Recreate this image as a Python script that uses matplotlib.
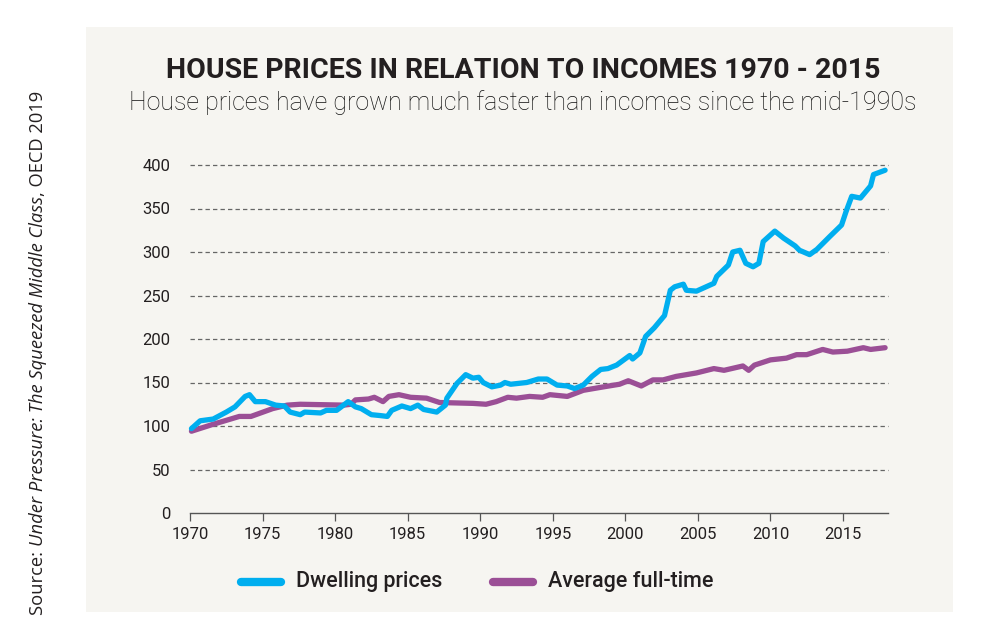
import matplotlib
matplotlib.use("Agg")
import matplotlib.pyplot as plt
from matplotlib.patches import Rectangle
from matplotlib.lines import Line2D

plt.rcParams['font.family'] = ['Roboto', 'DejaVu Sans']

# ---- data ----
dwell_year = [1970.1, 1970.7, 1971.6, 1972.5, 1973.1, 1973.8, 1974.1, 1974.5, 1975.2, 1975.9,
              1976.5, 1976.9, 1977.6, 1977.9, 1979.0, 1979.4, 1980.1, 1980.9, 1981.4, 1981.8,
              1982.5, 1983.1, 1983.6, 1983.9, 1984.6, 1985.2, 1985.7, 1986.1, 1987.0, 1987.6,
              1987.7, 1988.4, 1989.0, 1989.5, 1989.9, 1990.2, 1990.8, 1991.4, 1991.7, 1992.1,
              1993.2, 1994.0, 1994.6, 1995.3, 1996.0, 1996.5, 1997.1, 1997.7, 1998.3, 1998.8,
              1999.4, 2000.3, 2000.5, 2001.0, 2001.4, 2002.0, 2002.7, 2003.1, 2003.4, 2004.0,
              2004.2, 2004.9, 2006.1, 2006.3, 2007.1, 2007.4, 2007.9, 2008.3, 2008.8, 2009.2,
              2009.5, 2010.3, 2010.9, 2011.7, 2012.0, 2012.7, 2013.2, 2014.1, 2014.9, 2015.2,
              2015.6, 2016.2, 2016.9, 2017.1, 2017.9]
dwell_val = [97, 106, 108, 116, 122, 134, 136, 128, 128, 124,
             123, 116, 113, 116, 115, 118, 118, 128, 122, 120,
             113, 112, 111, 118, 123, 120, 124, 119, 116, 124,
             132, 149, 159, 155, 156, 150, 145, 147, 150, 148,
             150, 154, 154, 147, 146, 143, 147, 157, 165, 166,
             170, 181, 177, 184, 203, 213, 227, 256, 260, 263,
             256, 255, 264, 272, 285, 300, 302, 287, 283, 287,
             312, 324, 316, 307, 302, 297, 303, 318, 331, 346,
             364, 362, 376, 389, 394]

income_year = [1970.1, 1971.6, 1973.4, 1974.2, 1975.7, 1976.7, 1977.6, 1980.6, 1981.1, 1981.4,
               1982.3, 1982.7, 1983.3, 1983.7, 1984.4, 1985.2, 1986.3, 1987.2, 1989.5, 1990.4,
               1991.1, 1991.9, 1992.5, 1993.4, 1994.3, 1994.8, 1996.0, 1997.1, 1998.5, 1999.6,
               2000.2, 2001.1, 2001.9, 2002.6, 2003.5, 2004.9, 2006.1, 2006.8, 2008.1, 2008.5,
               2008.9, 2010.0, 2011.1, 2011.8, 2012.5, 2013.6, 2014.3, 2015.3, 2016.4, 2016.9,
               2017.9]
income_val = [94, 102, 111, 111, 120, 124, 125, 124, 125, 130,
              131, 133, 128, 134, 136, 133, 132, 127, 126, 125,
              128, 133, 132, 134, 133, 136, 134, 141, 145, 148,
              152, 146, 153, 153, 157, 161, 166, 164, 169, 164,
              170, 176, 178, 182, 182, 188, 185, 186, 190, 188,
              190]

x_ticks = [1970, 1975, 1980, 1985, 1990, 1995, 2000, 2005, 2010, 2015]
y_ticks = [0, 50, 100, 150, 200, 250, 300, 350, 400]

blue = '#00aeef'
purple = '#9b4f96'
bg = '#f6f5f1'
txt = '#231f20'

W, H = 983, 644
fig = plt.figure(figsize=(W / 100, H / 100), dpi=100)
fig.patch.set_facecolor('white')

# panel background
fig.patches.append(Rectangle((86 / W, 1 - 612 / H), (953 - 86) / W, (612 - 27) / H,
                             transform=fig.transFigure, facecolor=bg, edgecolor='none', zorder=-5))

ax = fig.add_axes([190 / W, 1 - 513 / H, (888 - 190) / W, (513 - 165) / H])
ax.set_facecolor('none')
ax.set_xlim(1970, 2018.1)
ax.set_ylim(0, 400)

for v in y_ticks[1:]:
    ax.axhline(v, color='#666666', lw=0.9, ls=(0, (3.5, 2.5)), zorder=1, clip_on=False)

ax.plot(income_year, income_val, color=purple, lw=3.8, solid_capstyle='round',
        solid_joinstyle='round', zorder=3, clip_on=False)
ax.plot(dwell_year, dwell_val, color=blue, lw=3.8, solid_capstyle='round',
        solid_joinstyle='round', zorder=4, clip_on=False)

for s in ['top', 'right', 'left']:
    ax.spines[s].set_visible(False)
ax.spines['bottom'].set_color('#555555')
ax.spines['bottom'].set_linewidth(1.0)

ax.set_xticks(x_ticks)
ax.set_yticks(y_ticks)
ax.tick_params(axis='x', direction='out', length=6, width=0.9, color='#555555',
               labelsize=12, labelcolor=txt, pad=4)
ax.tick_params(axis='y', length=0, labelsize=12, labelcolor=txt, pad=14)

# titles
fig.text(523 / W, 1 - 70 / H, 'HOUSE PRICES IN RELATION TO INCOMES 1970 - 2015',
         ha='center', va='center', fontsize=20.5, fontweight='bold', color=txt)
fig.text(523 / W, 1 - 103 / H, 'House prices have grown much faster than incomes since the mid-1990s',
         ha='center', va='center', fontsize=18, fontweight='light', color='#111111')

# legend
yl = 1 - 582 / H
fig.add_artist(Line2D([241 / W, 281 / W], [yl, yl], color=blue, lw=6,
                      solid_capstyle='round', transform=fig.transFigure))
fig.text(296 / W, yl, 'Dwelling prices', ha='left', va='center', fontsize=15.5,
         fontweight='medium', color=txt)
fig.add_artist(Line2D([493 / W, 533 / W], [yl, yl], color=purple, lw=6,
                      solid_capstyle='round', transform=fig.transFigure))
fig.text(548 / W, yl, 'Average full-time', ha='left', va='center', fontsize=15.5,
         fontweight='medium', color=txt)

# rotated source note, with italic publication title
fig.canvas.draw()
renderer = fig.canvas.get_renderer()
parts = [('Source: ', 'normal'), ('Under Pressure: The Squeezed Middle Class', 'italic'),
         (', OECD 2019', 'normal')]
ypix = H - 615
for s, style in parts:
    t = fig.text(38 / W, ypix / H, s, rotation=90, ha='center', va='bottom',
                 fontsize=13.2, fontstyle=style, color=txt, family=['Open Sans', 'DejaVu Sans'])
    bb = t.get_window_extent(renderer)
    ypix = bb.y1

fig.savefig('out.png', dpi=100, facecolor='white')
